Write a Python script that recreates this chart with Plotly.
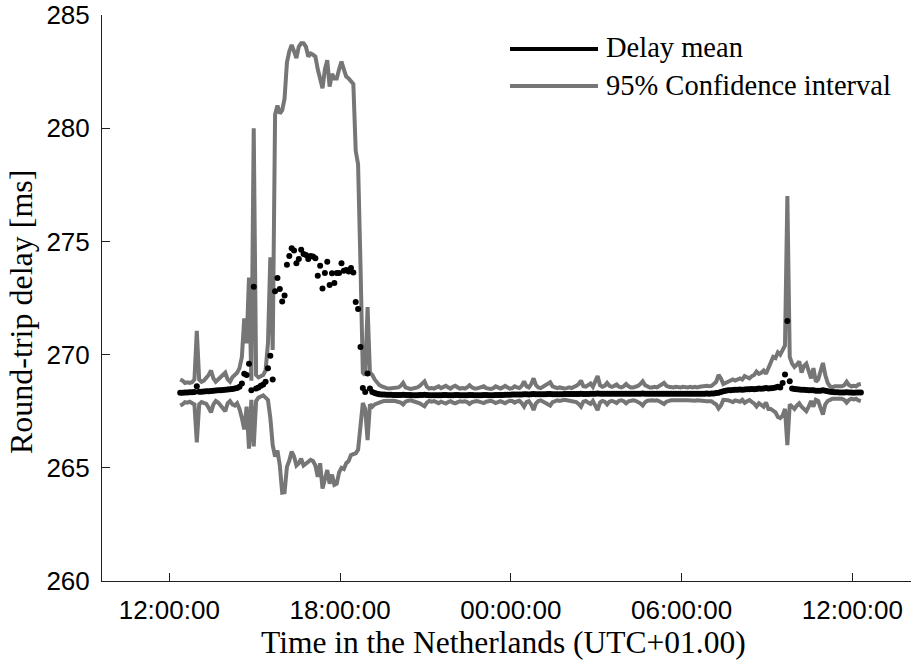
import pandas as pd
import plotly.graph_objects as go

# Round-trip delay statistics, one sample every five minutes
START = "2013-03-20 12:23:00"
STEP = "5min"

delay_mean = [
    268.32, 268.32, 268.33, 268.33, 268.34, 268.34, 268.35, 268.60, 268.36, 268.36, 268.37, 268.38,
    268.38, 268.39, 268.40, 268.41, 268.42, 268.42, 268.44, 268.45, 268.46, 268.47, 268.48, 268.50,
    268.52, 268.58, 268.72, 269.15, 269.10, 269.60, 268.42, 273.00, 268.50, 268.55, 268.62, 268.68,
    268.80, 269.40, 269.95, 268.90, 272.80, 273.38, 272.90, 272.35, 272.61, 273.97, 274.36, 274.70,
    274.60, 274.04, 274.22, 274.63, 274.44, 274.40, 274.22, 274.36, 274.33, 274.26, 273.48, 273.92,
    272.92, 273.60, 274.10, 273.07, 273.59, 273.16, 273.60, 273.60, 274.03, 273.70, 273.74, 273.67,
    273.82, 273.63, 272.32, 272.01, 270.34, 268.53, 268.35, 269.16, 268.50, 268.35, 268.30, 268.27,
    268.25, 268.24, 268.24, 268.23, 268.23, 268.23, 268.22, 268.22, 268.22, 268.22, 268.23, 268.22,
    268.22, 268.22, 268.21, 268.21, 268.21, 268.22, 268.22, 268.23, 268.22, 268.21, 268.21, 268.21,
    268.21, 268.21, 268.21, 268.22, 268.22, 268.21, 268.21, 268.21, 268.22, 268.22, 268.21, 268.21,
    268.21, 268.21, 268.22, 268.22, 268.21, 268.21, 268.21, 268.21, 268.22, 268.22, 268.21, 268.21,
    268.21, 268.22, 268.22, 268.22, 268.22, 268.23, 268.23, 268.23, 268.24, 268.24, 268.24, 268.24,
    268.24, 268.25, 268.25, 268.24, 268.25, 268.26, 268.25, 268.25, 268.25, 268.25, 268.25, 268.26,
    268.26, 268.25, 268.25, 268.25, 268.25, 268.25, 268.26, 268.26, 268.26, 268.26, 268.26, 268.26,
    268.26, 268.27, 268.26, 268.26, 268.26, 268.27, 268.27, 268.27, 268.28, 268.27, 268.27, 268.27,
    268.27, 268.27, 268.27, 268.27, 268.27, 268.27, 268.27, 268.27, 268.27, 268.27, 268.27, 268.27,
    268.27, 268.27, 268.27, 268.28, 268.27, 268.27, 268.27, 268.27, 268.27, 268.27, 268.27, 268.27,
    268.27, 268.27, 268.27, 268.27, 268.27, 268.27, 268.27, 268.27, 268.27, 268.27, 268.27, 268.27,
    268.27, 268.27, 268.27, 268.27, 268.27, 268.27, 268.28, 268.27, 268.28, 268.28, 268.30, 268.32,
    268.35, 268.38, 268.40, 268.42, 268.43, 268.44, 268.45, 268.45, 268.46, 268.45, 268.46, 268.47,
    268.47, 268.48, 268.47, 268.48, 268.50, 268.49, 268.50, 268.52, 268.50, 268.51, 268.52, 268.55,
    268.58, 268.55, 268.75, 269.12, 271.48, 268.82, 268.50, 268.48, 268.47, 268.46, 268.45, 268.45,
    268.44, 268.42, 268.42, 268.42, 268.40, 268.40, 268.40, 268.42, 268.40, 268.38, 268.36, 268.35,
    268.34, 268.34, 268.33, 268.33, 268.33, 268.34, 268.33, 268.33, 268.32, 268.33, 268.33, 268.33,
]

ci_upper = [
    268.90, 268.85, 268.75, 268.78, 268.75, 268.78, 268.90, 271.05, 268.90, 268.80, 268.85, 268.95,
    269.10, 269.30, 268.95, 268.80, 268.90, 269.00, 269.10, 269.20, 268.90, 268.80, 269.00, 269.10,
    269.20, 269.40, 269.90, 271.60, 270.50, 273.40, 268.85, 280.00, 269.10, 269.00, 269.05, 269.10,
    269.30, 270.50, 274.30, 270.20, 280.60, 281.00, 280.65, 280.80, 281.30, 282.90, 283.40, 283.68,
    283.40, 283.10, 283.60, 283.75, 283.75, 283.60, 283.16, 283.30, 283.25, 283.16, 282.60, 282.10,
    281.76, 282.60, 283.00, 281.84, 282.40, 282.20, 282.20, 282.60, 282.94, 282.60, 282.28, 282.20,
    282.08, 281.95, 279.00, 278.40, 274.00, 269.20, 269.10, 272.10, 269.20, 269.10, 268.90, 268.75,
    268.65, 268.60, 268.55, 268.52, 268.50, 268.52, 268.50, 268.52, 268.55, 268.62, 268.75, 268.55,
    268.50, 268.48, 268.50, 268.52, 268.55, 268.62, 268.72, 268.82, 268.58, 268.50, 268.52, 268.50,
    268.55, 268.60, 268.52, 268.58, 268.62, 268.55, 268.50, 268.58, 268.62, 268.55, 268.50, 268.52,
    268.50, 268.55, 268.65, 268.55, 268.50, 268.50, 268.52, 268.55, 268.60, 268.52, 268.50, 268.48,
    268.52, 268.60, 268.55, 268.50, 268.55, 268.62, 268.55, 268.50, 268.52, 268.60, 268.55, 268.52,
    268.62, 268.82, 268.60, 268.55, 268.70, 268.95, 268.65, 268.55, 268.52, 268.58, 268.65, 268.75,
    268.78, 268.60, 268.55, 268.52, 268.55, 268.52, 268.50, 268.52, 268.55, 268.52, 268.55, 268.62,
    268.70, 268.85, 268.60, 268.58, 268.65, 268.72, 268.58, 268.80, 269.05, 268.65, 268.58, 268.62,
    268.75, 268.62, 268.58, 268.62, 268.68, 268.58, 268.55, 268.60, 268.70, 268.60, 268.55, 268.55,
    268.58, 268.62, 268.70, 268.82, 268.65, 268.58, 268.55, 268.55, 268.58, 268.55, 268.60, 268.68,
    268.75, 268.62, 268.58, 268.55, 268.55, 268.58, 268.55, 268.55, 268.58, 268.55, 268.55, 268.58,
    268.55, 268.58, 268.55, 268.58, 268.60, 268.58, 268.62, 268.60, 268.62, 268.70, 268.80, 269.10,
    268.95, 268.70, 268.75, 268.80, 268.85, 268.90, 268.85, 268.90, 268.95, 268.90, 269.05, 269.00,
    268.95, 269.05, 269.10, 269.25, 269.15, 269.20, 269.30, 269.15, 269.40, 269.60, 269.90, 269.85,
    270.10, 270.00, 270.20, 270.40, 277.00, 269.90, 269.60, 269.45, 269.55, 269.70, 269.20, 269.50,
    269.60, 269.20, 268.95, 269.40, 268.80, 268.90, 269.20, 269.63, 269.10, 268.75, 268.60, 268.55,
    268.60, 268.60, 268.62, 268.60, 268.65, 268.80, 268.65, 268.60, 268.62, 268.60, 268.68, 268.70,
]

ci_lower = [
    267.75, 267.80, 267.90, 267.88, 267.92, 267.88, 267.80, 266.12, 267.80, 267.90, 267.87, 267.82,
    267.65, 267.45, 267.80, 267.95, 267.88, 267.75, 267.60, 267.50, 267.85, 267.95, 267.80, 267.75,
    267.85, 267.60, 267.20, 266.70, 267.70, 265.85, 268.00, 265.95, 267.95, 268.10, 268.15, 268.20,
    268.10, 268.00, 267.20, 266.00, 265.50, 265.76, 265.10, 263.90, 263.92, 265.04, 265.32, 265.72,
    265.50, 265.10, 265.20, 265.40, 265.10, 265.20, 265.28, 265.35, 265.30, 265.10, 264.60, 265.20,
    264.08, 264.60, 264.90, 264.30, 264.70, 264.25, 264.30, 264.80, 265.00, 264.95, 265.20, 265.30,
    265.56, 265.60, 265.64, 265.80, 266.70, 267.86, 267.60, 266.22, 267.80, 267.70, 267.80, 267.85,
    267.90, 267.92, 267.95, 267.96, 267.98, 267.95, 267.96, 267.94, 267.92, 267.88, 267.80, 267.92,
    267.96, 267.98, 267.95, 267.93, 267.90, 267.85, 267.78, 267.72, 267.88, 267.95, 267.92, 267.95,
    267.90, 267.85, 267.92, 267.88, 267.84, 267.90, 267.94, 267.88, 267.85, 267.90, 267.94, 267.92,
    267.94, 267.90, 267.82, 267.90, 267.94, 267.95, 267.92, 267.90, 267.86, 267.92, 267.94, 267.96,
    267.92, 267.86, 267.90, 267.94, 267.90, 267.85, 267.92, 267.96, 267.95, 267.88, 267.93, 267.96,
    267.86, 267.70, 267.90, 267.94, 267.80, 267.55, 267.85, 267.95, 267.98, 267.92, 267.85, 267.78,
    267.75, 267.90, 267.95, 267.98, 267.95, 267.98, 268.00, 267.98, 267.96, 267.98, 267.95, 267.90,
    267.82, 267.70, 267.92, 267.95, 267.88, 267.82, 267.95, 267.75, 267.55, 267.88, 267.95, 267.92,
    267.80, 267.92, 267.96, 267.92, 267.86, 267.96, 267.98, 267.94, 267.85, 267.94, 267.98, 267.98,
    267.96, 267.92, 267.85, 267.75, 267.90, 267.96, 267.98, 267.98, 267.96, 267.98, 267.94, 267.88,
    267.82, 267.92, 267.96, 267.98, 267.98, 267.96, 267.98, 267.98, 267.96, 267.98, 267.98, 267.96,
    267.98, 267.96, 267.98, 267.96, 267.94, 267.96, 267.94, 267.94, 267.94, 267.86, 267.80, 267.62,
    267.75, 268.00, 268.00, 267.98, 267.95, 267.90, 267.98, 267.95, 267.92, 268.00, 267.87, 267.94,
    267.99, 267.91, 267.84, 267.71, 267.85, 267.78, 267.70, 267.89, 267.60, 267.60, 267.50, 267.45,
    267.25, 267.20, 267.30, 267.60, 266.00, 267.80, 267.70, 267.60, 267.75, 267.85, 267.70, 267.60,
    267.50, 267.70, 267.95, 267.70, 268.00, 267.95, 267.70, 267.35, 267.80, 267.95, 268.00, 268.05,
    268.05, 268.05, 268.02, 268.05, 268.00, 267.88, 268.00, 268.05, 268.02, 268.05, 267.98, 267.95,
]

series_names = ["Delay mean", "95% Confidence interval"]
y_ticks = [260, 265, 270, 275, 280, 285]
x_tick_start = "2013-03-20 12:00:00"
x_range = ["2013-03-20 09:38:07", "2013-03-21 14:03:40"]

assert len(delay_mean) == len(ci_upper) == len(ci_lower)
times = pd.date_range(START, periods=len(delay_mean), freq=STEP)

GRAY = "#767676"
SERIF = "Liberation Serif, Times New Roman, serif"
SANS = "Liberation Sans, Arial, sans-serif"

W, H = 911, 661
L, R, T, B = 102, 0, 15, 80
PW, PH = W - L - R, H - T - B


def px(x):
    return (x - L) / PW


def py(y):
    return (H - B - y) / PH


fig = go.Figure()
for bound in (ci_upper, ci_lower):
    fig.add_trace(go.Scatter(
        x=times, y=bound, mode="lines",
        line=dict(color=GRAY, width=4), showlegend=False, hoverinfo="skip",
    ))
fig.add_trace(go.Scatter(
    x=times, y=delay_mean, mode="markers",
    marker=dict(color="black", size=6, line=dict(width=0)),
    showlegend=False,
))

# legend drawn as keys + labels in the upper right corner
legend_rows = [(series_names[0], "black", 49), (series_names[1], GRAY, 86)]
for label, colour, yrow in legend_rows:
    fig.add_shape(type="line", xref="paper", yref="paper",
                  x0=px(510), x1=px(598), y0=py(yrow), y1=py(yrow),
                  line=dict(color=colour, width=4))
    fig.add_annotation(text=label, xref="paper", yref="paper",
                       x=px(604), y=py(yrow - 1), xanchor="left", yanchor="middle",
                       showarrow=False, font=dict(family=SERIF, size=28.5, color="black"))

fig.add_annotation(text="Time in the Netherlands (UTC+01.00)", xref="paper", yref="paper",
                   x=px(503), y=py(643), xanchor="center", yanchor="middle",
                   showarrow=False, font=dict(family=SERIF, size=31.5, color="black"))
fig.add_annotation(text="Round-trip delay [ms]", xref="paper", yref="paper",
                   x=px(21), y=py(312), xanchor="center", yanchor="middle", textangle=-90,
                   showarrow=False, font=dict(family=SERIF, size=32, color="black"))

axis_common = dict(showline=True, linecolor="#202020", linewidth=1, ticks="inside",
                   ticklen=8, tickcolor="#202020", tickwidth=1, showgrid=False,
                   zeroline=False, mirror=False,
                   tickfont=dict(family=SANS, size=26, color="black"))

fig.update_xaxes(type="date", range=x_range, tick0=x_tick_start, dtick=6 * 3600 * 1000,
                 tickformat="%H:%M:%S", ticklabelstandoff=6, **axis_common)
fig.update_yaxes(range=[260, 285], tickvals=y_ticks, ticklabelstandoff=6, **axis_common)

fig.update_layout(width=W, height=H, margin=dict(l=L, r=R, t=T, b=B),
                  paper_bgcolor="white", plot_bgcolor="white", showlegend=False)

fig.write_html("out.html")
